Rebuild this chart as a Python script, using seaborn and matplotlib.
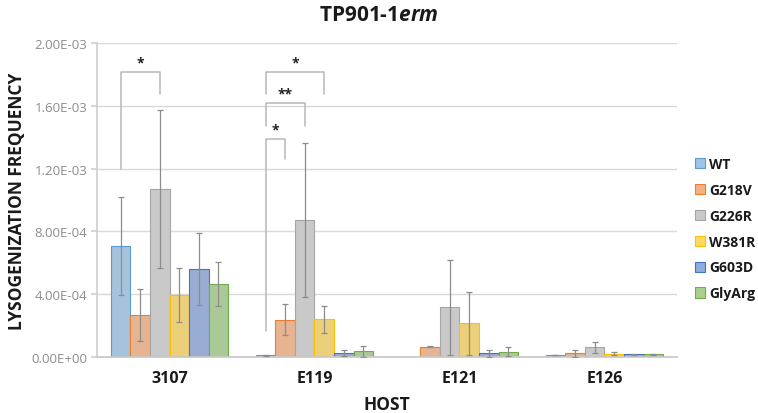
import numpy as np
import pandas as pd
import matplotlib
matplotlib.use("Agg")
import matplotlib.pyplot as plt
import seaborn as sns

sns.set_theme(style="white")
plt.rcParams["font.family"] = ["Open Sans", "DejaVu Sans"]
plt.rcParams["mathtext.fontset"] = "custom"
plt.rcParams["mathtext.bfit"] = "Open Sans:italic:bold"

hosts = ["3107", "E119", "E121", "E126"]
strains = ["WT", "G218V", "G226R", "W381R", "G603D", "GlyArg"]

# mean lysogenization frequency per host, one list per strain
wt     = [7.07e-4, 0.12e-4, 0.0,     0.13e-4]
g218v  = [2.67e-4, 2.38e-4, 0.66e-4, 0.25e-4]
g226r  = [1.07e-3, 8.73e-4, 3.16e-4, 0.62e-4]
w381r  = [3.93e-4, 2.40e-4, 2.14e-4, 0.21e-4]
g603d  = [5.59e-4, 0.25e-4, 0.23e-4, 0.18e-4]
glyarg = [4.63e-4, 0.36e-4, 0.34e-4, 0.18e-4]

# error bar half-widths
wt_err     = [3.12e-4, 0.04e-4, 0.0,     0.02e-4]
g218v_err  = [1.67e-4, 1.00e-4, 0.03e-4, 0.22e-4]
g226r_err  = [5.05e-4, 4.90e-4, 3.00e-4, 0.35e-4]
w381r_err  = [1.72e-4, 0.87e-4, 2.02e-4, 0.10e-4]
g603d_err  = [2.30e-4, 0.20e-4, 0.20e-4, 0.02e-4]
glyarg_err = [1.40e-4, 0.33e-4, 0.28e-4, 0.03e-4]

means = [wt, g218v, g226r, w381r, g603d, glyarg]
errs = [wt_err, g218v_err, g226r_err, w381r_err, g603d_err, glyarg_err]

fills = ["#9dc3e6", "#f4b183", "#c9c9c9", "#ffd966", "#8faadc", "#a9d18e"]
edges = ["#5b9bd5", "#ed7d31", "#a5a5a5", "#ffc000", "#4472c4", "#70ad47"]

# significance brackets: (host, left strain, right strain, leg bottoms, top, label)
brackets = [
    ("3107", "WT", "G226R", 1.20e-3, 1.675e-3, 1.817e-3, "*"),
    ("E119", "WT", "G218V", 1.65e-4, 1.26e-3, 1.39e-3, "*"),
    ("E119", "WT", "G226R", 1.47e-3, 1.47e-3, 1.62e-3, "**"),
    ("E119", "WT", "W381R", 1.675e-3, 1.675e-3, 1.817e-3, "*"),
]

df = pd.DataFrame([
    {"host": h, "strain": s, "freq": means[j][i], "err": errs[j][i]}
    for j, s in enumerate(strains) for i, h in enumerate(hosts)
])

fig = plt.figure(figsize=(7.58, 4.14), dpi=100)
ax = fig.add_axes([0.128, 0.135, 0.765, 0.759])

sns.barplot(data=df, x="host", y="freq", hue="strain", order=hosts,
            hue_order=strains, palette=fills, errorbar=None, width=0.81,
            ax=ax, legend=False)

bar_groups = list(ax.containers)
centers = {}
for j, cont in enumerate(bar_groups):
    for i, bar in enumerate(cont):
        bar.set_edgecolor(edges[j])
        bar.set_linewidth(0.8)
        if means[j][i] == 0:
            bar.set_linewidth(0)
        cx = bar.get_x() + bar.get_width() / 2
        centers[(hosts[i], strains[j])] = cx
        if errs[j][i] > 0:
            ax.errorbar(cx, means[j][i], yerr=errs[j][i], color="#8c8c8c",
                        lw=0.9, capsize=2.5, capthick=0.9, zorder=4)

for host, s1, s2, lo1, lo2, top, lab in brackets:
    x1, x2 = centers[(host, s1)], centers[(host, s2)]
    ax.plot([x1, x1, x2, x2], [lo1, top, top, lo2], color="#b8b8b8",
            lw=1.1, zorder=5)
    ax.text((x1 + x2) / 2, top + 0.015e-3, lab, ha="center", va="bottom",
            fontsize=10, fontweight="bold", color="#222222")

ax.set_ylim(0, 2.0e-3)
ax.set_xlim(-0.5, 3.5)
ticks = np.arange(0, 2.01e-3, 4e-4)
ax.set_yticks(ticks)
ax.set_yticklabels([f"{t:.2E}" for t in ticks], color="#8c8c8c", fontsize=9.5)
ax.yaxis.grid(True, color="#d9d9d9", lw=1)
ax.set_axisbelow(True)
ax.tick_params(axis="x", length=0, pad=9)
ax.tick_params(axis="y", length=4, color="#d0d0d0", left=True, pad=3)
for lbl in ax.get_xticklabels():
    lbl.set_fontweight("bold")
    lbl.set_fontsize(11.5)
    lbl.set_color("#1a1a1a")
for side in ["top", "right"]:
    ax.spines[side].set_visible(False)
ax.spines["left"].set_color("#d0d0d0")
ax.spines["bottom"].set_color("#c8c8c8")

ax.set_xlabel("HOST", fontsize=12.5, fontweight="bold", color="#1a1a1a", labelpad=7)
ax.set_ylabel("LYSOGENIZATION FREQUENCY", fontsize=12.5, fontweight="bold",
              color="#1a1a1a", labelpad=4)

fig.text(0.5, 0.962, r"TP901-1$\mathbfit{erm}$", ha="center", va="center",
         fontsize=15, fontweight="bold", color="#1a1a1a")

handles = [plt.Rectangle((0, 0), 1, 1, facecolor=fills[j], edgecolor=edges[j], lw=0.8)
           for j in range(len(strains))]
leg = fig.legend(handles, strains, loc="center left", bbox_to_anchor=(0.9, 0.445),
                 frameon=False, handlelength=0.75, handleheight=0.75,
                 handletextpad=0.3, labelspacing=0.85, fontsize=10)
for t in leg.get_texts():
    t.set_fontweight("bold")
    t.set_color("#1a1a1a")

fig.savefig("out.png", dpi=100)
